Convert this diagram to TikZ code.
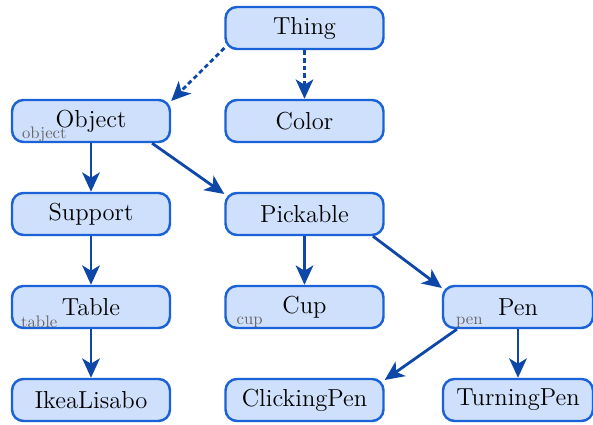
\documentclass[tikz,border=0pt]{standalone}
\usepackage{tikz}
\usetikzlibrary{arrows.meta,positioning}
\definecolor{boxfill}{HTML}{CFE0FC}
\definecolor{boxline}{HTML}{1A62D6}
\definecolor{arrowblue}{HTML}{0D47A8}
\tikzset{
cls/.style={draw=boxline,fill=boxfill,line width=1.4pt,rounded corners=6.5pt,minimum width=3.16cm,minimum height=0.84cm,inner sep=0pt,font=\fontsize{14}{17}\selectfont},
tag/.style={text=black!60,font=\fontsize{9.5}{11}\selectfont,inner sep=0pt,anchor=south west},
isa/.style={draw=arrowblue,line width=1.6pt,-{Stealth[length=11pt,width=10pt,inset=3pt]}},
inst/.style={isa,dash pattern=on 2.6pt off 1.8pt}
}
\begin{document}
\begin{tikzpicture}[x=0.02cm,y=-0.02cm]
\useasboundingbox (0,0) rectangle (593,425);
\node[cls] (Thing) at (304.5,28) {Thing};
\node[cls] (Object) at (91,121) {Object};
\node[cls] (Color) at (304.5,121) {Color};
\node[cls] (Support) at (91,214) {Support};
\node[cls] (Pickable) at (304.5,214) {Pickable};
\node[cls] (Table) at (91,307) {Table};
\node[cls] (Cup) at (304.5,307) {Cup};
\node[cls,minimum width=3cm] (Pen) at (518,307) {Pen};
\node[cls] (IkeaLisabo) at (91,400) {IkeaLisabo};
\node[cls] (ClickingPen) at (304.5,400) {ClickingPen};
\node[cls,minimum width=3cm] (TurningPen) at (518,400) {TurningPen};
\node[tag] (objecttag) at ([xshift=0.22cm,yshift=0.015cm]Object.south west) {object};
\node[tag] (tabletag) at ([xshift=0.2cm,yshift=0.015cm]Table.south west) {table};
\node[tag] (cuptag) at ([xshift=0.24cm,yshift=0.015cm]Cup.south west) {cup};
\node[tag] (pentag) at ([xshift=0.28cm,yshift=0.015cm]Pen.south west) {pen};
\draw[inst] (Thing.194) -- (Object.14);
\draw[inst] (Thing) -- (Color);
\draw[isa] (Object) -- (Support);
\draw[isa] (Object.-20) -- (Pickable.166);
\draw[isa] (Support) -- (Table);
\draw[isa] (Table) -- (IkeaLisabo);
\draw[isa] (Pickable) -- (Cup);
\draw[isa] (Pickable.-18) -- (Pen.166);
\draw[isa] (Pen.200) -- (ClickingPen.14);
\draw[isa] (Pen) -- (TurningPen);
\end{tikzpicture}
\end{document}
